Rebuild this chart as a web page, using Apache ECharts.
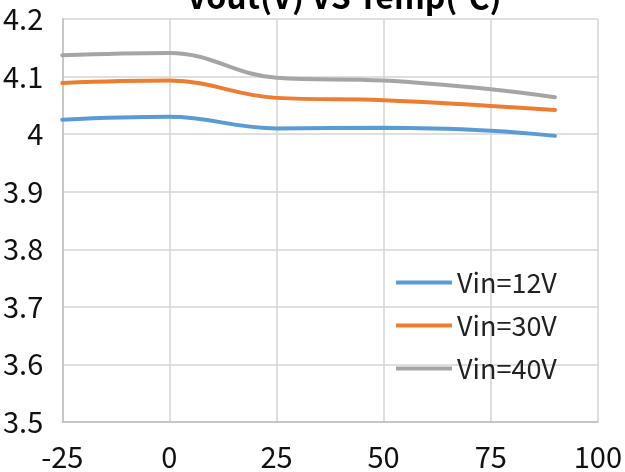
<!DOCTYPE html>
<html>
<head>
<meta charset="utf-8">
<script src="https://cdn.jsdelivr.net/npm/echarts@6/dist/echarts.min.js"></script>
<style>
  html, body { margin: 0; padding: 0; background: #fff; }
  #chart { width: 625px; height: 472px; }
</style>
</head>
<body>
<div id="chart"></div>
<script>
// Output voltage vs. ambient temperature at three input voltages
const temps = [-25, 0, 25, 50, 75, 90];
const vin12 = [4.025, 4.030, 4.010, 4.011, 4.006, 3.997];
const vin30 = [4.089, 4.093, 4.063, 4.059, 4.049, 4.042];
const vin40 = [4.137, 4.141, 4.098, 4.093, 4.078, 4.064];
const seriesNames = ['Vin=12V', 'Vin=30V', 'Vin=40V'];
const seriesColors = ['#5b9bd5', '#ed7d31', '#a5a5a5'];

const font = '"Noto Sans CJK SC", "Noto Sans", sans-serif';
const pairs = (ys) => temps.map((t, i) => [t, ys[i]]);

const chart = echarts.init(document.getElementById('chart'), null, { renderer: 'canvas' });
chart.setOption({
  animation: false,
  backgroundColor: '#ffffff',
  title: {
    text: 'Vout(V) VS Temp(℃)',
    left: 182,
    top: -24,
    textStyle: { fontFamily: font, fontSize: 32, fontWeight: 'bold', color: '#000' }
  },
  grid: { left: 62, right: 23, top: 19, bottom: 50 },
  legend: {
    orient: 'vertical',
    left: 391,
    top: 264,
    itemWidth: 56,
    itemHeight: 4,
    itemGap: 16,
    icon: 'rect',
    textStyle: { fontFamily: font, fontSize: 27, color: '#222' },
    data: seriesNames
  },
  xAxis: {
    type: 'value',
    min: -25,
    max: 100,
    interval: 25,
    axisLine: { show: true, onZero: false, lineStyle: { color: '#bfbfbf', width: 1.5 } },
    axisTick: { show: false },
    splitLine: { show: true, lineStyle: { color: '#d4d4d4', width: 1.5 } },
    axisLabel: { fontFamily: font, fontSize: 29, color: '#111', margin: 20 }
  },
  yAxis: {
    type: 'value',
    min: 3.5,
    max: 4.2,
    interval: 0.1,
    axisLine: { show: true, onZero: false, lineStyle: { color: '#bfbfbf', width: 1.5 } },
    axisTick: { show: false },
    splitLine: { show: true, lineStyle: { color: '#d4d4d4', width: 1.5 } },
    axisLabel: {
      fontFamily: font, fontSize: 29, color: '#111', margin: 19,
      formatter: (v) => String(Math.round(v * 10) / 10)
    }
  },
  series: [vin12, vin30, vin40].map((ys, i) => ({
    name: seriesNames[i],
    type: 'line',
    smooth: 0.4,
    symbol: 'none',
    data: pairs(ys),
    lineStyle: { color: seriesColors[i], width: 4, cap: 'round' },
    itemStyle: { color: seriesColors[i] }
  }))
});
</script>
</body>
</html>
